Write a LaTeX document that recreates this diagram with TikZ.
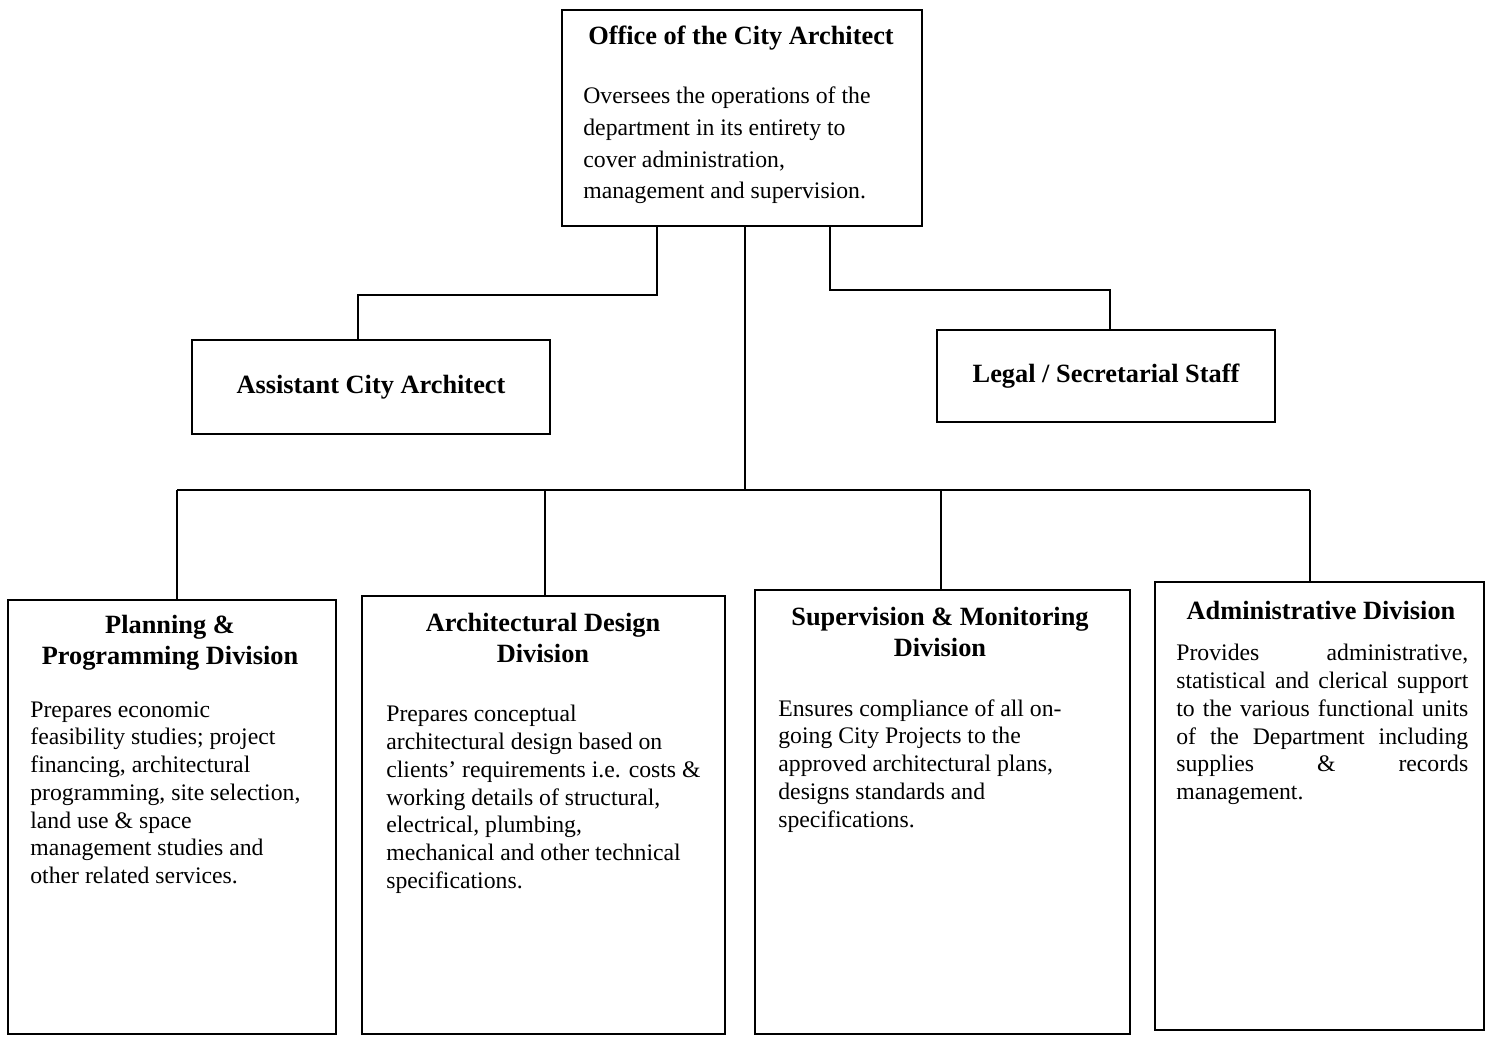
\documentclass[tikz,border=0pt]{standalone}
\usepackage{fontspec}
\setmainfont{Liberation Serif}
\usetikzlibrary{positioning}

\begin{document}
\begin{tikzpicture}[x=0.02cm, y=-0.02cm,
  box/.style={draw, line width=1.2pt, inner sep=0pt},
  ttl/.style={inner sep=0pt, align=center, font=\fontsize{15}{17.5}\selectfont\bfseries},
  txt/.style={inner sep=0pt, align=left, anchor=north west, font=\fontsize{13.5}{15.8}\selectfont},
  link/.style={line width=1.2pt}]
\useasboundingbox (0,0) rectangle (1486,1038);

%%%%%% top office %%%%%%
\node[box, minimum width=7.2cm, minimum height=4.32cm] (office) at (742,118) {};
\node[ttl] (officet) at (741,38) {Office of the City Architect};
\node[txt, font=\fontsize{13.5}{18.2}\selectfont] (officeb) at (583,86)
  {Oversees the operations of the\\ department in its entirety to\\ cover administration,\\ management and supervision.};

%%%%%% staff %%%%%%
\node[box, ttl, minimum width=7.16cm, minimum height=1.88cm] (asst) at (371,387) {Assistant City Architect};
\node[box, ttl, minimum width=6.76cm, minimum height=1.84cm] (legal) at (1106,376) {Legal / Secretarial Staff};

%%%%%% divisions %%%%%%
\node[box, minimum width=6.56cm, minimum height=8.68cm] (plan) at (172,817) {};
\node[ttl] (plant) at (170,643) {Planning \&\\ Programming Division};
\node[txt] (planb) at (30,701)
  {Prepares economic\\ feasibility studies; project\\ financing, architectural\\ programming, site selection,\\ land use \& space\\ management studies and\\ other related services.};

\node[box, minimum width=7.26cm, minimum height=8.76cm] (arch) at (543.5,815) {};
\node[ttl] (archt) at (543,638) {Architectural Design\\ Division};
\node[txt] (archb) at (386,705)
  {Prepares conceptual\\ architectural design based on\\ clients' requirements i.e. costs \&\\ working details of structural,\\ electrical, plumbing,\\ mechanical and other technical\\ specifications.};

\node[box, minimum width=7.5cm, minimum height=8.88cm] (sup) at (942.5,812) {};
\node[ttl] (supt) at (940,632) {Supervision \& Monitoring\\ Division};
\node[txt] (supb) at (778,699)
  {Ensures compliance of all on-\\ going City Projects to the\\ approved architectural plans,\\ designs standards and\\ specifications.};

\node[box, minimum width=6.58cm, minimum height=8.96cm] (admin) at (1319.5,806) {};
\node[ttl] (admint) at (1321,610) {Administrative Division};
\node[txt, text width=5.84cm, align=justify] (adminb) at (1176,644)
  {Provides administrative,\linebreak statistical and clerical support\linebreak to the various functional units\linebreak of the Department including\linebreak supplies \& records\linebreak management.};

%%%%%% connectors %%%%%%
\coordinate (ja) at (358,295);
\coordinate (jb) at (657,295);
\coordinate (jc) at (830,290);
\coordinate (jd) at (1110,290);
\coordinate (bus) at (745,490);
\coordinate (busl) at (177,490);
\coordinate (busr) at (1310,490);

\draw[link] (office.south -| jb) -- (jb) -- (ja) -- (asst.north -| ja);
\draw[link] (office.south -| jc) -- (jc) -- (jd) -- (legal.north -| jd);
\draw[link] (office.south -| bus) -- (bus);
\draw[link] (busl) -- (busr);

\foreach \n/\x in {plan/177, arch/545, sup/941, admin/1310}
{
\coordinate (d\n) at (\x,490);
\draw[link] (d\n) -- (\n.north -| d\n);
}

\end{tikzpicture}
\end{document}
